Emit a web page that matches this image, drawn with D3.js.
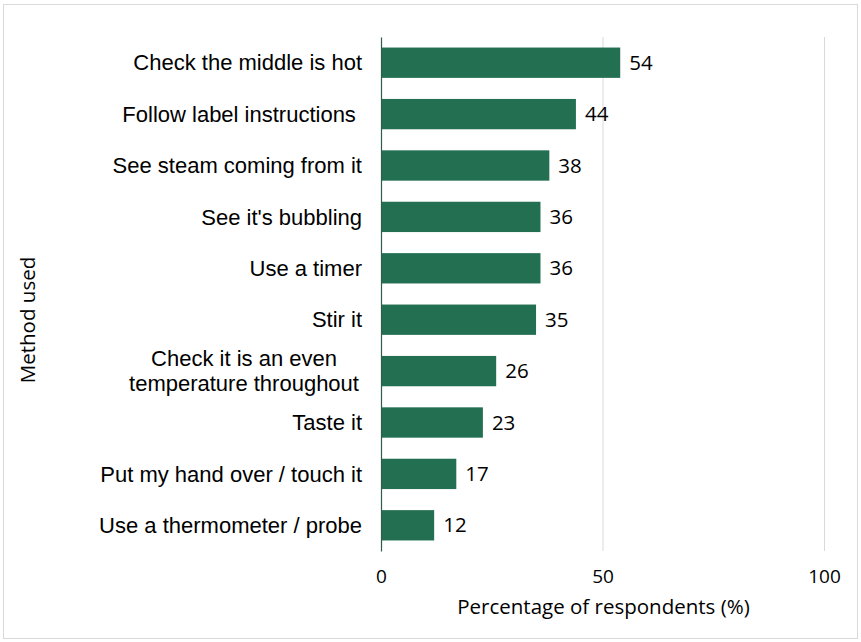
<!DOCTYPE html>
<html>
<head>
<meta charset="utf-8">
<script src="https://cdn.jsdelivr.net/npm/d3@7"></script>
<style>
  body { margin: 0; background: #fff; }
  svg { display: block; font-family: "Open Sans", "Noto Sans", sans-serif; }
</style>
</head>
<body>
<div class="chart"></div>
<script>
// methods used to check food is cooked, % of respondents

var methods = [
  "Check the middle is hot",
  "Follow label instructions\u00a0",
  "See steam coming from it",
  "See it's bubbling",
  "Use a timer",
  "Stir it",
  "Check it is an even\ntemperature throughout",
  "Taste it",
  "Put my hand over / touch it",
  "Use a thermometer / probe"
];
var percents = [54, 44, 38, 36, 36, 35, 26, 23, 17, 12];
var xTicks = [0, 50, 100];

var data = methods.map(function(m, i) { return {method: m, pct: percents[i]}; });

var W = 861, H = 642;
var margin = {top: 37, right: 37, bottom: 91, left: 381},
    width = W - margin.left - margin.right,
    height = H - margin.top - margin.bottom;

var barColor = "#236f51";
var fs = 20.5,     // values, titles
    catFs = 22;    // category labels

var svg = d3.select(".chart").append("svg")
    .attr("width", W)
    .attr("height", H);

/* outer border */
svg.append("rect")
    .attr("x", 3.5).attr("y", 4.5)
    .attr("width", W - 7).attr("height", H - 8)
    .attr("fill", "none")
    .attr("stroke", "#d9d9d9");

var g = svg.append("g")
    .attr("transform", "translate(" + margin.left + "," + margin.top + ")");

/* scales */
var x = d3.scaleLinear().domain([0, 100]).range([0, width]);
var y = d3.scaleBand()
    .domain(methods)
    .range([0, height])
    .paddingInner(0.41)
    .paddingOuter(0.205);

/* gridlines */
g.append("g")
    .selectAll("line")
    .data(xTicks.slice(1))
    .join("line")
    .attr("x1", function(d) { return x(d) + 0.5; })
    .attr("x2", function(d) { return x(d) + 0.5; })
    .attr("y1", 0)
    .attr("y2", height)
    .attr("stroke", "#d9d9d9");

/* bars */
g.append("g")
    .selectAll("rect")
    .data(data)
    .join("rect")
    .attr("x", 0)
    .attr("y", function(d) { return y(d.method); })
    .attr("width", function(d) { return x(d.pct); })
    .attr("height", y.bandwidth())
    .attr("fill", barColor);

/* value labels */
g.append("g")
    .selectAll("text")
    .data(data)
    .join("text")
    .attr("x", function(d) { return x(d.pct) + 9; })
    .attr("y", function(d) { return y(d.method) + y.bandwidth() / 2; })
    .attr("dy", "0.35em")
    .attr("font-size", fs)
    .attr("fill", "#000")
    .text(function(d) { return d.pct; });

/* Y axis */
var yAxis = g.append("g")
    .call(d3.axisLeft(y).tickSize(0).tickFormat(""));
yAxis.select(".domain").attr("stroke", "#2f5d4b").attr("stroke-width", 1.2);

yAxis.selectAll(".tick").each(function(d) {
    var lines = d.split("\n");
    var lx = lines.length > 1 ? -137 : -19;
    var t = d3.select(this).append("text")
        .attr("fill", "#000")
        .attr("font-size", catFs)
        .style("white-space", "pre")
        .attr("text-anchor", lines.length > 1 ? "middle" : "end")
        .attr("x", lx);
    lines.forEach(function(l, i) {
        t.append("tspan")
            .attr("x", lx)
            .attr("dy", i === 0 ? (0.35 - (lines.length - 1) * 0.57) + "em" : "1.14em")
            .text(l);
    });
});

/* X axis */
var xAxis = g.append("g")
    .attr("transform", "translate(0," + height + ")")
    .call(d3.axisBottom(x).tickValues(xTicks).tickSize(0).tickPadding(19));
xAxis.select(".domain").remove();
xAxis.selectAll("text").attr("font-size", 19).attr("fill", "#000")
    .attr("font-family", "'Open Sans', sans-serif");

/* axis titles */
svg.append("text")
    .attr("x", margin.left + x(50) + 1)
    .attr("y", 614)
    .attr("text-anchor", "middle")
    .attr("font-size", fs)
    .text("Percentage of respondents (%)");

svg.append("text")
    .attr("transform", "translate(35," + (margin.top + height / 2 + 26) + ") rotate(-90)")
    .attr("text-anchor", "middle")
    .attr("font-size", fs)
    .text("Method used");
</script>
</body>
</html>
